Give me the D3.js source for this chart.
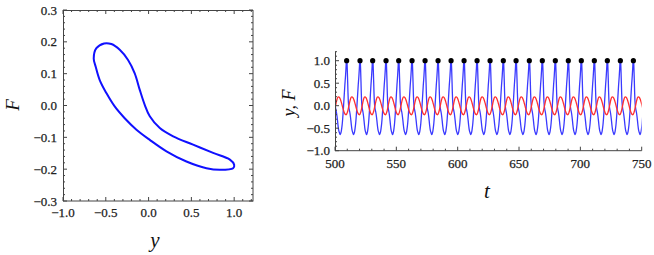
<!DOCTYPE html>
<html>
<head>
<meta charset="utf-8">
<script src="https://cdn.jsdelivr.net/npm/d3@7"></script>
<style>
  body { margin: 0; background: #fff; }
  svg { display: block; }
  text { font-family: "Liberation Serif", "DejaVu Serif", serif; fill: #222; }
  .tick { stroke: #222; stroke-width: 0.25; }
  .lab { font-style: italic; fill: #111; }
</style>
</head>
<body>
<svg id="chart" width="654" height="255"></svg>
<script>
// one cycle of the limit cycle, ordered in time, starting at the spike top (phase 0)
var cyclePhase = [0.00, 0.028, 0.052, 0.077, 0.099, 0.119, 0.146, 0.171, 0.205, 0.244, 0.281, 0.319, 0.353, 0.39,
                  0.47, 0.521, 0.553, 0.597, 0.635, 0.673, 0.706, 0.739, 0.772, 0.813, 0.862, 0.919, 0.95, 0.98];
var cycleY = [1.0, 0.95, 0.754, 0.52, 0.287, 0.131, 0.014, -0.045, -0.103, -0.162, -0.24, -0.337, -0.435, -0.52,
              -0.61, -0.641, -0.618, -0.571, -0.493, -0.396, -0.279, -0.142, 0.014, 0.209, 0.442, 0.676, 0.832, 0.988];
var cycleF = [-0.186, -0.17, -0.149, -0.123, -0.097, -0.071, -0.034, 0.002, 0.049, 0.101, 0.143, 0.175, 0.193, 0.195,
              0.18, 0.148, 0.122, 0.08, 0.039, -0.003, -0.04, -0.076, -0.108, -0.144, -0.176, -0.197, -0.202, -0.197];

// spike maxima (black dots) read from the time series
var peakT = [509.5, 520.4, 530.7, 541.6, 551.9, 562.8, 573.4, 584.0, 594.6, 605.2, 615.8, 626.4,
             637.2, 647.6, 658.4, 669.0, 679.6, 690.2, 700.8, 711.4, 722.0, 732.6, 743.2];
var peakY = [1, 1, 1, 1, 1, 1, 1, 1, 1, 1, 1, 1, 1, 1, 1, 1, 1, 1, 1, 1, 1, 1, 1];

var leftXTicks = [-1, -0.5, 0, 0.5, 1];
var leftYTicks = [-0.3, -0.2, -0.1, 0, 0.1, 0.2, 0.3];
var rightXTicks = [500, 550, 600, 650, 700, 750];
var rightYTicks = [-1, -0.5, 0, 0.5, 1];

var svg = d3.select('#chart');
var fmt1 = d3.format('.1f');
var frameColor = '#444';

function drawTicks(g, vals, scale, orient, pos, len) {
    vals.forEach(function(v) {
        var p = scale(v);
        var l = g.append('line').attr('stroke', frameColor).attr('stroke-width', 1);
        if (orient === 'left') l.attr('x1', pos).attr('x2', pos + len).attr('y1', p).attr('y2', p);
        if (orient === 'right') l.attr('x1', pos).attr('x2', pos - len).attr('y1', p).attr('y2', p);
        if (orient === 'bottom') l.attr('x1', p).attr('x2', p).attr('y1', pos).attr('y2', pos - len);
        if (orient === 'top') l.attr('x1', p).attr('x2', p).attr('y1', pos).attr('y2', pos + len);
    });
}

// ---------- left panel: F vs y ----------
var xL = d3.scaleLinear().domain([-1, 1.22]).range([63, 253]);
var yL = d3.scaleLinear().domain([-0.3, 0.3]).range([201, 10]);
var gl = svg.append('g');

var minorLX = d3.range(-1, 1.22, 0.1).filter(function(v) { return Math.abs(v * 2 - Math.round(v * 2)) > 0.01; });
var minorLY = d3.range(-0.3, 0.3001, 0.02).filter(function(v) { return Math.abs(v * 10 - Math.round(v * 10)) > 0.01; });

drawTicks(gl, leftYTicks, yL, 'left', 63, 4);
drawTicks(gl, minorLY, yL, 'left', 63, 2);
drawTicks(gl, leftYTicks, yL, 'right', 253, 4);
drawTicks(gl, minorLY, yL, 'right', 253, 2);
drawTicks(gl, leftXTicks, xL, 'bottom', 201, 4);
drawTicks(gl, minorLX, xL, 'bottom', 201, 2);
drawTicks(gl, leftXTicks, xL, 'top', 10, 4);
drawTicks(gl, minorLX, xL, 'top', 10, 2);

gl.append('rect').attr('x', 63.5).attr('y', 10.5).attr('width', 189.5).attr('height', 190.5)
    .attr('fill', 'none').attr('stroke', frameColor).attr('stroke-width', 1);

gl.selectAll('.ylab').data(leftYTicks).enter().append('text').attr('class', 'tick')
    .attr('x', 57).attr('y', function(d) { return yL(d) + 4.5; })
    .attr('text-anchor', 'end').attr('font-size', 13).text(fmt1);
gl.selectAll('.xlab').data(leftXTicks).enter().append('text').attr('class', 'tick')
    .attr('x', function(d) { return xL(d); }).attr('y', 217)
    .attr('text-anchor', 'middle').attr('font-size', 13).text(fmt1);

var loop = d3.line()
    .x(function(d, i) { return xL(cycleY[i]); })
    .y(function(d, i) { return yL(cycleF[i]); })
    .curve(d3.curveCatmullRomClosed);
gl.append('path').attr('d', loop(cyclePhase))
    .attr('fill', 'none').attr('stroke', '#1010ff').attr('stroke-width', 2);

gl.append('text').attr('class', 'lab').attr('font-size', 19)
    .attr('transform', 'translate(19,105) rotate(-90)').attr('text-anchor', 'middle').text('F');
gl.append('text').attr('class', 'lab').attr('font-size', 21)
    .attr('x', 155).attr('y', 247).attr('text-anchor', 'middle').text('y');

// ---------- right panel: y, F vs t ----------
var xR = d3.scaleLinear().domain([500, 750]).range([335, 641.7]);
var yR = d3.scaleLinear().domain([-1, 1.2]).range([150.7, 51.7]);
var gr = svg.append('g');

// lay one cycle between consecutive spike times
var starts = peakT.slice();
starts.unshift(peakT[0] - (peakT[1] - peakT[0]));
var series = [];
starts.forEach(function(s, k) {
    var p = k + 1 < starts.length ? starts[k + 1] - s : s - starts[k - 1];
    cyclePhase.forEach(function(ph, j) {
        series.push({t: s + ph * p, y: cycleY[j], f: cycleF[j]});
    });
});

gr.append('clipPath').attr('id', 'clipR').append('rect')
    .attr('x', xR(500)).attr('y', 40).attr('width', xR(750) - xR(500)).attr('height', 120);

var yLine = d3.line().x(function(d) { return xR(d.t); }).y(function(d) { return yR(d.y); }).curve(d3.curveMonotoneX);
var fLine = d3.line().x(function(d) { return xR(d.t); }).y(function(d) { return yR(d.f); }).curve(d3.curveMonotoneX);

var plot = gr.append('g').attr('clip-path', 'url(#clipR)');
plot.append('path').attr('d', yLine(series)).attr('fill', 'none')
    .attr('stroke', '#3a3aff').attr('stroke-width', 1.3);
plot.append('path').attr('d', fLine(series)).attr('fill', 'none')
    .attr('stroke', '#ff3030').attr('stroke-width', 1.3);

gr.selectAll('.dot').data(peakT).enter().append('circle')
    .attr('cx', function(d) { return xR(d); })
    .attr('cy', function(d, i) { return yR(peakY[i]); })
    .attr('r', 2.6).attr('fill', '#000');

var minorRX = d3.range(500, 751, 10).filter(function(v) { return v % 50 !== 0; });
var minorRY = d3.range(-1, 1.2001, 0.1).filter(function(v) { return Math.abs(v * 2 - Math.round(v * 2)) > 0.01; });
drawTicks(gr, rightYTicks, yR, 'left', 335, 4);
drawTicks(gr, minorRY, yR, 'left', 335, 2);
drawTicks(gr, rightXTicks, xR, 'bottom', 150.7, 4);
drawTicks(gr, minorRX, xR, 'bottom', 150.7, 2);

gr.append('line').attr('x1', 335.5).attr('x2', 335.5).attr('y1', 51.7).attr('y2', 151)
    .attr('stroke', frameColor);
gr.append('line').attr('x1', 335).attr('x2', 641.7).attr('y1', 150.7).attr('y2', 150.7)
    .attr('stroke', frameColor);

gr.selectAll('.ylab').data(rightYTicks).enter().append('text').attr('class', 'tick')
    .attr('x', 330).attr('y', function(d) { return yR(d) + 4.5; })
    .attr('text-anchor', 'end').attr('font-size', 13).text(fmt1);
gr.selectAll('.xlab').data(rightXTicks).enter().append('text').attr('class', 'tick')
    .attr('x', function(d) { return xR(d); }).attr('y', 168)
    .attr('text-anchor', 'middle').attr('font-size', 13).text(function(d) { return d; });

gr.append('text').attr('class', 'lab').attr('font-size', 18)
    .attr('transform', 'translate(295,103) rotate(-90)').attr('text-anchor', 'middle').text('y, F');
gr.append('text').attr('class', 'lab').attr('font-size', 21)
    .attr('x', 487).attr('y', 198).attr('text-anchor', 'middle').text('t');
</script>
</body>
</html>
